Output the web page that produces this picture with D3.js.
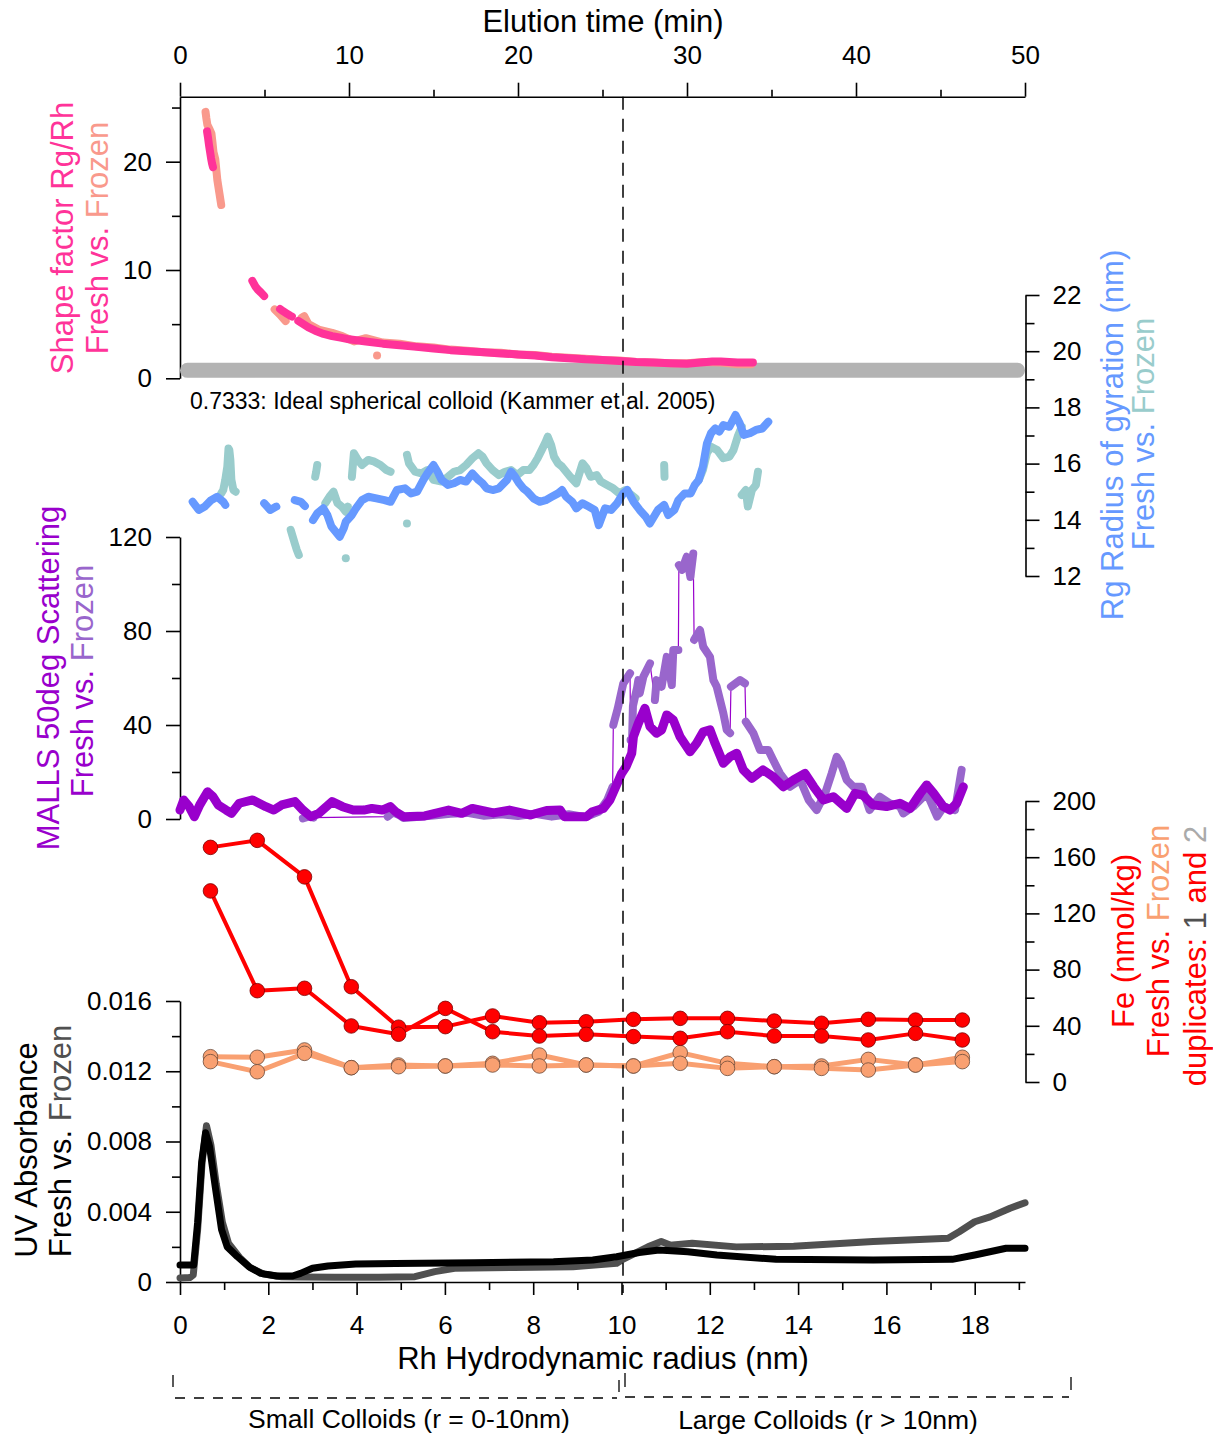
<!DOCTYPE html>
<html>
<head>
<meta charset="utf-8">
<script src="https://cdn.jsdelivr.net/npm/d3@7"></script>
<style>
  html, body { margin: 0; padding: 0; background: #fff; }
  svg { display: block; font-family: "Liberation Sans", Arial, sans-serif; }
</style>
</head>
<body>
<svg id="chart" width="1213" height="1437"></svg>
<script>
// ---------------- data ----------------
// Shape factor Rg/Rh vs elution time (min); null splits the trace
const shapeFresh = [
  [1.60,22.8],[1.66,22.2],[1.72,21.5],[1.78,20.9],[1.84,20.3],[1.90,19.8],[1.95,19.5], null,
  [4.28,9.0],[4.45,8.5],[4.60,8.2],[4.80,7.9],[4.98,7.6], null,
  [5.92,6.4],[6.10,6.2],[6.30,6.0],[6.50,5.8],[6.62,5.7], null,
  [7.0,5.3],[7.3,5.0],[7.6,4.7],[8.0,4.4],[8.5,4.1],[9.0,3.9],[9.5,3.75],[10.0,3.6],[11,3.4],[12,3.2],
  [13,3.05],[14,2.9],[15,2.75],[16,2.6],[17,2.5],[18,2.4],[19,2.3],[20,2.2],[21,2.1],[22,1.95],[23,1.85],
  [24,1.75],[25,1.7],[26,1.6],[27,1.5],[28,1.45],[29,1.4],[30,1.35],[30.8,1.45],[31.5,1.55],[32,1.55],
  [33,1.45],[33.9,1.45]
];
const shapeFrozen = [
  [1.51,24.6],[1.56,24.0],[1.62,23.4],[1.75,23.0],[1.86,22.6],[1.92,21.8],[1.98,20.9],[2.09,20.2],
  [2.21,18.3],[2.33,17.1],[2.44,16.0], null,
  [5.6,6.36],[5.9,5.9],[6.25,5.28], null,
  [7.2,5.6],[7.35,5.74],[7.6,5.0],[8.2,4.5],[9.0,4.2],[9.6,3.9],[10.3,3.4],[11.0,3.7],[12.0,3.3],[13.0,3.2],
  [14.0,2.95],[15.0,2.85],[16,2.65],[17,2.55],[18,2.4],[19,2.35],[20,2.2],[21,2.15],[22,2.0],[23,1.9],
  [24,1.8],[25,1.7],[26,1.65],[27,1.5],[28,1.45],[29,1.4],[30,1.4],[31,1.5],[32,1.45],[33,1.3],[33.8,1.3], null,
  [11.66,2.1]
];
const sphereShape = 0.7333;

// Rg radius of gyration (nm) vs elution time (min)
const rgFresh = [
  [0.75,14.64],[1.11,14.35],[1.47,14.47],[1.84,14.70],[2.20,14.82],[2.56,14.64],[2.68,14.53], null,
  [4.98,14.59],[5.34,14.35],[5.70,14.47], null,
  [6.79,14.70],[7.15,14.64],[7.39,14.49], null,
  [7.87,13.99],[8.12,14.23],[8.48,14.41],[8.72,14.17],[8.96,13.76],[9.20,13.58],[9.45,13.40],[9.69,13.70],
  [9.81,13.93],[10.17,14.17],[10.41,14.41],[10.77,14.70],[11.14,14.82],[11.62,14.76],[12.1,14.70],
  [12.46,14.64],[12.83,15.06],[13.31,15.12],[13.67,14.94],[14.03,15.0],[14.4,15.42],[14.64,15.65],
  [15.0,15.95],[15.24,15.71],[15.48,15.42],[15.85,15.24],[16.21,15.30],[16.57,15.42],[16.93,15.36],
  [17.3,15.65],[17.66,15.42],[17.9,15.30],[18.14,15.12],[18.5,15.06],[18.87,15.12],[19.35,15.42],
  [19.59,15.71],[19.83,15.53],[20.07,15.30],[20.31,15.12],[20.56,15.0],[20.92,14.76],[21.28,14.64],
  [21.64,14.70],[22.0,14.82],[22.37,14.94],[22.61,15.06],[22.85,14.82],[23.21,14.64],[23.45,14.41],
  [23.82,14.59],[24.18,14.47],[24.54,14.35],[24.78,13.81],[25.15,14.41],[25.51,14.35],[25.87,14.59],
  [26.23,14.94],[26.47,15.06],[26.84,14.64],[27.2,14.35],[27.56,14.11],[27.8,13.87],[28.04,14.11],
  [28.28,14.35],[28.65,14.53],[28.89,14.17],[29.25,14.35],[29.49,14.70],[29.86,14.94],[30.22,14.94],
  [30.46,15.24],[30.7,15.42],[30.94,15.89],[31.18,16.72],[31.42,17.08],[31.67,17.25],[31.91,17.14],
  [32.15,17.37],[32.51,17.31],[32.87,17.73],[33.12,17.43],[33.36,17.02],[33.72,17.08],[34.08,17.20],
  [34.45,17.25],[34.81,17.49]
];
const rgFrozen = [
  [2.44,14.94],[2.56,15.06],[2.68,15.42],[2.80,15.89],[2.87,16.54],[2.92,16.48],[2.98,16.13],[3.04,15.42],
  [3.16,15.06],[3.29,15.0], null,
  [6.55,13.64],[6.67,13.40],[6.79,13.16],[6.91,12.93],[7.03,12.75], null,
  [8.0,15.53],[8.06,15.71],[8.12,15.95], null,
  [8.60,14.59],[8.84,14.82],[9.08,15.0],[9.32,14.59],[9.57,14.47],[9.81,14.29],[9.93,14.47], null,
  [9.81,12.63], null,
  [10.17,15.53],[10.29,16.37],[10.53,16.13],[10.77,15.95],[11.14,16.13],[11.50,16.07],[11.86,15.95],
  [12.22,15.77],[12.46,15.71], null,
  [13.43,13.87], null,
  [13.43,16.31],[13.55,16.01],[13.91,15.71],[14.28,15.65],[14.64,15.77],[15.0,15.42],[15.48,15.36],
  [15.85,15.53],[16.21,15.71],[16.57,15.77],[16.93,15.95],[17.3,16.19],[17.66,16.37],[17.9,16.25],
  [18.14,16.01],[18.5,15.77],[18.87,15.59],[19.23,15.71],[19.59,15.77],[19.95,15.59],[20.31,15.77],
  [20.68,15.77],[20.92,15.95],[21.16,16.19],[21.4,16.48],[21.64,16.78],[21.76,16.96],[21.96,16.66],
  [22.13,16.25],[22.37,16.01],[22.61,15.89],[22.85,15.71],[23.09,15.53],[23.45,15.30],[23.82,16.01],
  [24.06,15.83],[24.3,15.53],[24.66,15.59],[24.9,15.36],[25.27,15.24],[25.63,15.12],[25.99,14.94],
  [26.35,15.06],[26.72,14.88],[26.96,14.76], null,
  [28.65,15.95],[28.67,15.53], null,
  [30.7,15.42],[30.94,15.77],[31.18,16.37],[31.42,16.60],[31.79,16.48],[32.15,16.19],[32.51,16.25],
  [32.75,16.48],[33.0,16.96],[33.24,17.31], null,
  [33.24,14.88],[33.48,15.06],[33.6,14.47],[33.84,15.06],[34.08,15.24],[34.2,15.71]
];

// MALLS 50deg scattering vs elution time (min)
const mallsFresh = [
  [0.0,3.8],[0.22,8.1],[0.54,5.25],[0.85,1.0],[1.17,6.0],[1.63,11.6],[1.95,9.5],[2.26,6.0],[2.73,3.8],
  [3.05,2.4],[3.51,6.7],[4.30,8.1],[5.08,5.25],[5.55,3.8],[6.02,6.0],[6.8,7.4],[7.27,3.8],[7.74,1.0],
  [8.21,2.4],[9.0,7.4],[9.62,5.25],[10.25,3.8],[10.88,3.8],[11.35,4.5],[11.97,3.8],[12.44,5.25],
  [12.76,3.1],[13.22,1.0],[14.48,1.3],[15.89,3.8],[16.67,2.4],[17.3,4.5],[18.55,2.6],[19.49,3.8],
  [20.75,1.7],[21.69,3.6],[22.5,3.8],[22.74,1.0],[24.06,1.0],[24.4,3.1],[25.05,4.5],[25.44,8.1],
  [25.74,13.0],[26.13,19.4],[26.4,22.3],[26.73,28.0],[26.83,35.0],[27.12,40.7],[27.51,47.1],
  [27.81,39.3],[28.2,36.5],[28.5,37.9],[28.8,44.3],[29.19,42.1],[29.59,35.0],[30.18,28.6],[30.57,32.2],
  [30.96,37.1],[31.36,37.9],[31.66,32.2],[32.15,23.7],[32.55,26.5],[32.94,28.0],[33.33,20.9],
  [33.83,17.3],[34.5,20.9],[35.1,18.0],[35.7,13.7],[36.3,16.6],[36.98,19.4],[37.5,13.7],[38.07,8.1],
  [38.66,9.5],[39.45,4.5],[39.94,10.9],[40.4,10.2],[41.0,6.0],[41.8,5.3],[42.6,6.7],[43.2,4.5],
  [43.8,10.9],[44.18,14.5],[44.6,10.9],[45.17,5.3],[45.56,3.8],[45.96,6.7],[46.35,13.7]
];
const mallsFrozen = [
  [7.27,0.3],[7.6,1.0],[7.9,0.6],[12.29,1.0],[12.6,2.8],[13.0,1.5],[13.22,0.4],[14.0,0.8],[15.0,1.5],
  [16.0,2.2],[17.0,2.6],[18.0,1.4],[19.0,2.0],[20.0,1.3],[21.0,2.2],[22.0,1.0],[23.0,2.0],[24.0,0.8],
  [24.8,3.2],[25.28,8.1],[25.6,13.7],[25.64,40.0],[25.9,47],[26.23,57.7],[26.63,62],[26.66,33.6],
  [26.75,33.6],[26.8,48],[27.05,56],[27.12,59.1],[27.2,53.4],[27.42,60.6],[27.81,66.2],[28.1,50.6],
  [28.2,59.1],[28.5,56.3],[28.8,69],[29.1,57],[29.19,71.9],[29.49,71.9],[29.52,108],[29.7,106],
  [29.98,111.6],[30.2,103],[30.37,113],[30.42,76.2],[30.77,80.4],[30.96,73.3],[31.36,69],[31.56,59.1],
  [31.76,56.3],[32.15,45],[32.35,37.9],[32.55,36.5],[32.6,56.3],[33.14,59.1],[33.43,57.7],[33.48,41.4],
  [33.93,36.5],[34.32,29.4],[34.81,29.4],[35.1,25.1],[35.5,19.4],[36.1,13.7],[36.7,16.6],[37.2,8.1],
  [37.67,3.8],[38.17,10.9],[38.56,19.4],[38.86,26.5],[39.1,23.7],[39.45,16.6],[39.85,13.7],[40.34,13.7],
  [40.8,3.8],[41.4,9.5],[42.0,6.7],[42.6,5.3],[42.8,2.4],[43.4,5.3],[43.8,8.1],[44.2,10.9],[44.8,1.0],
  [45.2,5.3],[45.86,3.8],[46.15,16.6],[46.25,20.9]
];

// Fe (nmol/kg) in collected fractions, by hydrodynamic radius (nm)
const feRadius  = [0.69,1.75,2.82,3.88,4.95,6.01,7.08,8.14,9.2,10.27,11.33,12.4,13.46,14.53,15.59,16.66,17.72];
const feFresh1  = [167,172,146,67.8,39,39.4,47,42.2,42.9,44.6,45.3,45.3,43.4,41.8,44.6,44.1,44.1];
const feFresh2  = [136,65,66.7,39.9,34,52.4,35.8,32.7,33.9,32.3,31.1,35.8,32.7,32.7,29.9,34.6,29.9];
const feFrozen1 = [18.0,17.6,22.8,10.2,12.1,11.4,13.3,19.2,12.1,11.4,20.9,13.3,10.9,11.4,16.1,12.1,17.6];
const feFrozen2 = [14.5,7.3,20.4,10.2,10.9,11.4,12.1,11.4,12.1,11.4,13.3,9.7,10.9,9.7,8.5,12.1,14.5];

// UV absorbance vs hydrodynamic radius (nm)
const uvFresh = [
  [0,0.00097],[0.31,0.00097],[0.40,0.0034],[0.49,0.0068],[0.58,0.0085],[0.67,0.0077],[0.80,0.0054],
  [0.94,0.0030],[1.07,0.0020],[1.30,0.00144],[1.56,0.00087],[1.83,0.00049],[2.19,0.00034],[2.55,0.00034],
  [2.73,0.00049],[3.0,0.00078],[3.35,0.00091],[3.98,0.00102],[4.88,0.00106],[6.67,0.0011],[8.46,0.00116],
  [9.35,0.00125],[9.89,0.00144],[10.4,0.00168],[10.85,0.00182],[11.5,0.00172],[12.16,0.00154],
  [13.5,0.00129],[15.7,0.00125],[17.49,0.00129],[18.0,0.00154],[18.71,0.00192],[19.14,0.00192]
];
const uvFrozen = [
  [0,0.00023],[0.22,0.00025],[0.3,0.0004],[0.4,0.003],[0.5,0.0068],[0.6,0.0089],[0.7,0.0078],
  [0.82,0.0056],[0.96,0.0034],[1.1,0.0022],[1.35,0.0014],[1.6,0.0008],[1.9,0.00045],[2.3,0.0003],
  [2.7,0.00028],[3.5,0.00027],[4.5,0.00027],[5.32,0.0003],[5.77,0.00059],[6.22,0.00078],[7.56,0.00083],
  [8.9,0.00087],[9.89,0.00106],[10.03,0.00129],[10.6,0.002],[10.9,0.0023],[11.1,0.0021],[11.6,0.0022],
  [12.6,0.002],[13.9,0.00203],[15.7,0.0023],[17.4,0.00249],[17.65,0.00286],[18.0,0.00343],
  [18.35,0.00371],[18.8,0.0042],[19.14,0.00451]
];

// tick values
const timeTicks = [0,10,20,30,40,50];
const timeMinor = [5,15,25,35,45];
const shapeTicks = [0,10,20], shapeMinor = [5,15,25];
const rgTicks = [12,14,16,18,20,22], rgMinor = [13,15,17,19,21];
const mallsTicks = [0,40,80,120], mallsMinor = [20,60,100];
const feTicks = [0,40,80,120,160,200], feMinor = [20,60,100,140,180];
const uvTicks = [0,0.004,0.008,0.012,0.016], uvMinor = [0.002,0.006,0.010,0.014];
const radiusTicks = [0,2,4,6,8,10,12,14,16,18], radiusMinor = [1,3,5,7,9,11,13,15,17,19];
const colloidBoundary = 10;

// ---------------- colours ----------------
const C = {
  pink: "#FF3399", salmon: "#F9998C",
  blue: "#6699FF", teal: "#99CCCC",
  purple: "#9900CC", lilac: "#9966CC",
  red: "#FF0000", orange: "#F9A071",
  black: "#000000", grey: "#505050", lightGrey: "#AAAAAA", band: "#B3B3B3"
};

// ---------------- scales ----------------
const svg = d3.select("#chart");
const FT = 26, FH = 31;
const tX = d3.scaleLinear().domain([0, 50]).range([180, 1025]);
const rX = d3.scaleLinear().domain([0, 10]).range([180, 621.5]);
const rMax = rX.invert(1025);
const topY = 96.7;
const sfY = d3.scaleLinear().domain([0, 20]).range([378.3, 161.7]);
const rgY = d3.scaleLinear().domain([12, 22]).range([576, 295]);
const maY = d3.scaleLinear().domain([0, 120]).range([819, 537]);
const feY = d3.scaleLinear().domain([0, 200]).range([1082, 801]);
const uvY = d3.scaleLinear().domain([0, 0.016]).range([1282, 1001]);

// ---------------- axes ----------------
function styleAxis(g) {
  g.selectAll("path, line").attr("stroke", "#000").attr("stroke-width", 1.6);
  g.selectAll("text").attr("font-size", FT).attr("fill", "#000")
    .attr("font-family", '"Liberation Sans", Arial, sans-serif');
}
function drawAxis(gen, tx, ty, major, minor, fmt, pad, minorSize) {
  const g = svg.append("g").attr("transform", `translate(${tx},${ty})`);
  g.call(gen.tickValues(major).tickSize(14).tickSizeOuter(0).tickPadding(pad).tickFormat(fmt));
  styleAxis(g);
  const m = svg.append("g").attr("transform", `translate(${tx},${ty})`);
  m.call(gen.tickValues(minor).tickSize(minorSize).tickFormat(""));
  m.select(".domain").remove();
  styleAxis(m);
  return g;
}
const intFmt = d3.format("d");
// elution time (top)
drawAxis(d3.axisTop(tX), 0, topY, timeTicks, timeMinor, intFmt, 19, 7);
// shape factor (left); its axis line runs up to the top axis
const sfAxisScale = sfY.copy().domain([0, sfY.invert(topY)]).range([sfY(0), topY]);
drawAxis(d3.axisLeft(sfAxisScale), 180, 0, shapeTicks, shapeMinor, intFmt, 14, 8);
// Rg (right)
drawAxis(d3.axisRight(rgY), 1025.5, 0, rgTicks, rgMinor, intFmt, 13, 9);
// MALLS (left)
drawAxis(d3.axisLeft(maY), 180, 0, mallsTicks, mallsMinor, intFmt, 14, 8);
// Fe (right)
drawAxis(d3.axisRight(feY), 1025.5, 0, feTicks, feMinor, intFmt, 13, 9);
// UV (left)
drawAxis(d3.axisLeft(uvY), 180, 0, uvTicks, uvMinor, d => d === 0 ? "0" : d3.format(".3f")(d), 14, 8);
// hydrodynamic radius (bottom)
const rAxisScale = rX.copy().domain([0, rMax]).range([180, 1025]);
const bottom = svg.append("g").attr("transform", `translate(0,${uvY(0)})`);
bottom.call(d3.axisBottom(rAxisScale).tickValues(radiusTicks).tickSize(13).tickSizeOuter(0).tickPadding(21).tickFormat(intFmt));
styleAxis(bottom);
const bottomMinor = svg.append("g").attr("transform", `translate(0,${uvY(0)})`);
bottomMinor.call(d3.axisBottom(rAxisScale).tickValues(radiusMinor).tickSize(8).tickFormat(""));
bottomMinor.select(".domain").remove();
styleAxis(bottomMinor);

// ---------------- trace helpers ----------------
// split a trace at nulls, at big value jumps and at long time gaps
function segments(data, jump, gap) {
  const segs = []; let cur = [];
  data.forEach(p => {
    if (p === null) { if (cur.length) segs.push(cur); cur = []; return; }
    const last = cur[cur.length - 1];
    if (last && ((jump && Math.abs(p[1] - last[1]) > jump) || (gap && p[0] - last[0] > gap))) {
      segs.push(cur); cur = [];
    }
    cur.push(p);
  });
  if (cur.length) segs.push(cur);
  return segs;
}
function trace(data, xs, ys, color, w, jump, gap) {
  const g = svg.append("g");
  segments(data, jump, gap).forEach(seg => {
    if (seg.length === 1) {
      g.append("circle").attr("cx", xs(seg[0][0])).attr("cy", ys(seg[0][1])).attr("r", w / 2).attr("fill", color);
    } else {
      g.append("path")
        .attr("d", d3.line().x(d => xs(d[0])).y(d => ys(d[1]))(seg))
        .attr("fill", "none").attr("stroke", color).attr("stroke-width", w)
        .attr("stroke-linejoin", "round").attr("stroke-linecap", "round");
    }
  });
  return g;
}

// ---------------- shape factor ----------------
const bandW = 15;
svg.append("line")
  .attr("x1", tX.range()[0] + bandW / 2).attr("x2", tX.range()[1] - bandW / 2)
  .attr("y1", sfY(sphereShape)).attr("y2", sfY(sphereShape))
  .attr("stroke", C.band).attr("stroke-width", bandW).attr("stroke-linecap", "round");
svg.append("text").attr("x", 190).attr("y", 409).attr("font-size", 23).attr("fill", "#000")
  .text(`${sphereShape}: Ideal spherical colloid (Kammer et al. 2005)`);
trace(shapeFrozen, tX, sfY, C.salmon, 8);
trace(shapeFresh, tX, sfY, C.pink, 8);

// ---------------- Rg ----------------
trace(rgFrozen, tX, rgY, C.teal, 8);
trace(rgFresh, tX, rgY, C.blue, 8);

// ---------------- MALLS ----------------
svg.append("path")
  .attr("d", d3.line().x(d => tX(d[0])).y(d => maY(d[1]))(mallsFrozen))
  .attr("fill", "none").attr("stroke", C.purple).attr("stroke-width", 1.2);
trace(mallsFrozen, tX, maY, C.lilac, 8, 15, 2);
trace(mallsFresh, tX, maY, C.purple, 9);

// ---------------- UV ----------------
trace(uvFrozen, rX, uvY, C.grey, 7);
trace(uvFresh, rX, uvY, C.black, 7);

// ---------------- Fe ----------------
function feSeries(values, color, lw, edge) {
  const pts = values.map((v, i) => [feRadius[i], v]);
  svg.append("path")
    .attr("d", d3.line().x(d => rX(d[0])).y(d => feY(d[1]))(pts))
    .attr("fill", "none").attr("stroke", color).attr("stroke-width", lw).attr("stroke-linejoin", "round");
  svg.append("g").selectAll("circle").data(pts).join("circle")
    .attr("cx", d => rX(d[0])).attr("cy", d => feY(d[1])).attr("r", 7.3)
    .attr("fill", color).attr("stroke", edge).attr("stroke-width", 0.8);
}
feSeries(feFrozen1, C.orange, 5, "#6b4a3a");
feSeries(feFrozen2, C.orange, 5, "#6b4a3a");
feSeries(feFresh1, C.red, 4, "#7a0000");
feSeries(feFresh2, C.red, 4, "#7a0000");

// ---------------- size boundary ----------------
svg.append("line")
  .attr("x1", rX(colloidBoundary) + 1.5).attr("x2", rX(colloidBoundary) + 1.5)
  .attr("y1", topY).attr("y2", 1293)
  .attr("stroke", "#000").attr("stroke-width", 1.5).attr("stroke-dasharray", "13,9");

// ---------------- titles ----------------
svg.append("text").attr("x", 603).attr("y", 32).attr("text-anchor", "middle")
  .attr("font-size", FH).attr("fill", "#000").text("Elution time (min)");
svg.append("text").attr("x", 603).attr("y", 1369).attr("text-anchor", "middle")
  .attr("font-size", FH).attr("fill", "#000").text("Rh Hydrodynamic radius (nm)");

function vTitle(x, y, parts) {
  const t = svg.append("text")
    .attr("transform", `translate(${x},${y}) rotate(-90)`)
    .attr("text-anchor", "middle").attr("dominant-baseline", "central").attr("font-size", FH);
  parts.forEach(([s, c]) => t.append("tspan").attr("fill", c).text(s));
}
vTitle(62, 238, [["Shape factor Rg/Rh", C.pink]]);
vTitle(97, 238, [["Fresh vs. ", C.pink], ["Frozen", C.salmon]]);
vTitle(48, 678, [["MALLS 50deg Scattering", C.purple]]);
vTitle(82, 681, [["Fresh vs. ", C.purple], ["Frozen", C.lilac]]);
vTitle(26, 1150, [["UV Absorbance", C.black]]);
vTitle(60, 1141, [["Fresh vs. ", C.black], ["Frozen", C.grey]]);
vTitle(1112, 435, [["Rg Radius of gyration (nm)", C.blue]]);
vTitle(1143, 434, [["Fresh vs. ", C.blue], ["Frozen", C.teal]]);
vTitle(1123, 941, [["Fe (nmol/kg)", C.red]]);
vTitle(1158, 941, [["Fresh vs. ", C.red], ["Frozen", C.orange]]);
vTitle(1195, 956, [["duplicates: ", C.red], ["1", C.grey], [" and ", C.red], ["2", C.lightGrey]]);

// ---------------- size-class brackets ----------------
const br = svg.append("g").attr("stroke", "#000").attr("stroke-width", 1.3).attr("fill", "none");
br.append("line").attr("x1", 173).attr("x2", 173).attr("y1", 1375).attr("y2", 1387);
br.append("line").attr("x1", 619).attr("x2", 619).attr("y1", 1380).attr("y2", 1392);
br.append("line").attr("x1", 175).attr("x2", 617).attr("y1", 1398).attr("y2", 1398).attr("stroke-dasharray", "10,9");
br.append("line").attr("x1", 625).attr("x2", 625).attr("y1", 1373).attr("y2", 1387);
br.append("line").attr("x1", 1071).attr("x2", 1071).attr("y1", 1377).attr("y2", 1390);
br.append("line").attr("x1", 625).attr("x2", 1069).attr("y1", 1397).attr("y2", 1397).attr("stroke-dasharray", "10,9");
svg.append("text").attr("x", 409).attr("y", 1428).attr("text-anchor", "middle")
  .attr("font-size", 26.5).attr("fill", "#000").text("Small Colloids (r = 0-10nm)");
svg.append("text").attr("x", 828).attr("y", 1429).attr("text-anchor", "middle")
  .attr("font-size", 26.5).attr("fill", "#000").text("Large Colloids (r > 10nm)");
</script>
</body>
</html>
